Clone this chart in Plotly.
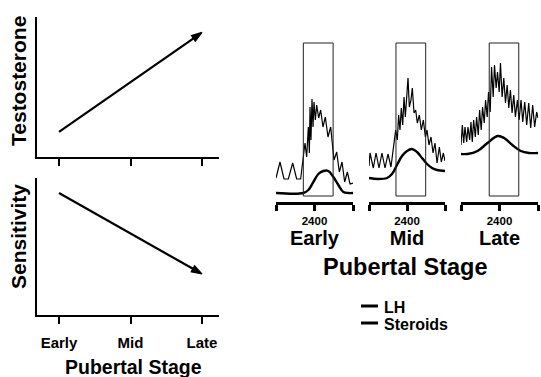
import plotly.graph_objects as go

W, H = 541, 377
FONT = "Liberation Sans, Arial, sans-serif"

# ---------------- data ----------------
stages = ["Early", "Mid", "Late"]
stage_pos = [0, 1, 2]
testosterone = [0.18, 0.89]      # Early -> Late
sensitivity = [0.89, 0.30]       # Early -> Late

# Early panel
early_lh_t = [1800, 1862, 1925, 1992, 2060, 2122, 2184, 2252, 2278, 2304, 2320, 2330, 2345, 2361,
              2377, 2392, 2413, 2434, 2465, 2496, 2532, 2569, 2610, 2652, 2704, 2746, 2787, 2829,
              2870, 2912, 2954, 3000]
early_lh_v = [0.24, 0.40, 0.23, 0.23, 0.39, 0.23, 0.23, 0.59, 0.45, 0.75, 0.49, 0.95, 0.62, 1.03,
              0.75, 1.00, 0.82, 0.97, 0.84, 0.92, 0.75, 0.85, 0.65, 0.75, 0.42, 0.50, 0.30, 0.40,
              0.20, 0.30, 0.18, 0.19]
early_st_t = [1800, 2226, 2304, 2382, 2460, 2538, 2616, 2694, 2772, 2850, 2928, 3000]
early_st_v = [0.09, 0.09, 0.12, 0.20, 0.28, 0.31, 0.31, 0.25, 0.17, 0.10, 0.09, 0.09]

# Mid panel
mid_lh_t = [1800, 1816, 1868, 1911, 1958, 2005, 2053, 2100, 2147, 2221, 2247, 2268, 2289, 2310,
            2332, 2353, 2374, 2400, 2416, 2437, 2463, 2484, 2511, 2537, 2563, 2595, 2626, 2658,
            2690, 2716, 2747, 2779, 2811, 2842, 2874, 2911, 2942, 2974, 3000]
mid_lh_v = [0.36, 0.49, 0.34, 0.49, 0.34, 0.49, 0.34, 0.48, 0.35, 0.72, 0.62, 0.87, 0.72, 0.94,
            0.77, 1.05, 0.85, 1.14, 1.24, 0.95, 1.02, 1.14, 0.89, 0.92, 0.79, 0.87, 0.72, 0.82,
            0.65, 0.72, 0.57, 0.65, 0.49, 0.59, 0.39, 0.55, 0.40, 0.49, 0.41]
mid_st_t = [1800, 1942, 2084, 2163, 2242, 2321, 2400, 2479, 2558, 2637, 2716, 2795, 2874, 3000]
mid_st_v = [0.24, 0.23, 0.24, 0.28, 0.37, 0.46, 0.51, 0.53, 0.50, 0.44, 0.38, 0.34, 0.32, 0.31]

# Late panel
late_lh_t = [1800, 1821, 1842, 1862, 1888, 1909, 1935, 1955, 1976, 1997, 2023, 2043, 2069, 2090,
             2115, 2136, 2162, 2183, 2208, 2229, 2255, 2276, 2302, 2322, 2348, 2369, 2395, 2415,
             2441, 2467, 2493, 2519, 2545, 2570, 2596, 2622, 2648, 2679, 2705, 2736, 2762, 2793,
             2824, 2855, 2886, 2917, 2948, 2979, 3000]
late_lh_v = [0.57, 0.77, 0.59, 0.75, 0.60, 0.75, 0.62, 0.80, 0.60, 0.82, 0.65, 0.85, 0.67, 0.92,
             0.72, 0.95, 0.79, 1.02, 0.85, 1.10, 0.90, 1.35, 1.05, 1.37, 1.14, 1.30, 1.10, 1.39,
             1.05, 1.24, 0.99, 1.17, 0.94, 1.12, 0.89, 1.07, 0.85, 1.02, 0.82, 1.02, 0.80, 1.00,
             0.77, 0.99, 0.74, 0.97, 0.75, 0.90, 0.84]
late_st_t = [1800, 1903, 2058, 2213, 2369, 2472, 2601, 2731, 2860, 3000]
late_st_v = [0.48, 0.48, 0.51, 0.59, 0.66, 0.64, 0.57, 0.51, 0.49, 0.49]

# sampling window (box) per panel
windows = [[2226, 2690], [2226, 2695], [2240, 2700]]
window_v = [0.06, 1.59]

time_ticks = [1800, 2400, 3000]
time_ticktext = ["", "2400", ""]

# ---------------- helpers ----------------
def px(x):
    return x / W


def py(y):
    return 1 - y / H


fig = go.Figure()

# ---------------- left panels ----------------
arrow_marker = dict(symbol=["circle", "arrow"], size=[0, 11], angleref="previous",
                    color="black", opacity=1, line=dict(width=1.2, color="black"))
fig.add_trace(go.Scatter(x=[stage_pos[0], stage_pos[2]], y=testosterone, mode="lines+markers",
                         line=dict(color="black", width=2.2), marker=arrow_marker,
                         xaxis="x", yaxis="y", showlegend=False, hoverinfo="skip"))
fig.add_trace(go.Scatter(x=[stage_pos[0], stage_pos[2]], y=sensitivity, mode="lines+markers",
                         line=dict(color="black", width=2.2), marker=arrow_marker,
                         xaxis="x2", yaxis="y2", showlegend=False, hoverinfo="skip"))

left_x_dom = [px(37), px(219)]
xr = [-(59 - 37) / 71.5, 2 + (219 - 202) / 71.5]
common_left_x = dict(domain=left_x_dom, range=xr, showline=True, linecolor="black", linewidth=2,
                     ticks="outside", ticklen=7, tickwidth=2, tickcolor="black",
                     tickvals=stage_pos, showgrid=False, zeroline=False, fixedrange=True)
common_left_y = dict(range=[0, 1], showline=True, linecolor="black", linewidth=2,
                     showticklabels=False, ticks="", showgrid=False, zeroline=False)

fig.update_layout(
    xaxis=dict(common_left_x, anchor="y", ticktext=["", "", ""]),
    yaxis=dict(common_left_y, domain=[py(157), py(17)], anchor="x"),
    xaxis2=dict(common_left_x, anchor="y2", ticktext=stages,
                tickfont=dict(family=FONT, size=15, color="black"), ticklabelstandoff=6),
    yaxis2=dict(common_left_y, domain=[py(315), py(178)], anchor="x2"),
)

# ---------------- right panels ----------------
panels = [
    (early_lh_t, early_lh_v, early_st_t, early_st_v, 276, 353),
    (mid_lh_t, mid_lh_v, mid_st_t, mid_st_v, 369, 445),
    (late_lh_t, late_lh_v, late_st_t, late_st_v, 461, 538),
]
for i, (lt, lv, stt, stv, x0, x1) in enumerate(panels):
    n = i + 3
    xa, ya = f"x{n}", f"y{n}"
    fig.add_trace(go.Scatter(x=lt, y=lv, mode="lines", line=dict(color="black", width=1.2),
                             xaxis=xa, yaxis=ya, showlegend=False, hoverinfo="skip"))
    fig.add_trace(go.Scatter(x=stt, y=stv, mode="lines", line=dict(color="black", width=2.4,
                             shape="spline", smoothing=1.0),
                             xaxis=xa, yaxis=ya, showlegend=False, hoverinfo="skip"))
    fig.add_shape(type="rect", xref=xa, yref=ya, x0=windows[i][0], x1=windows[i][1],
                  y0=window_v[0], y1=window_v[1], line=dict(color="#222", width=1))
    fig.layout[f"xaxis{n}"] = dict(
        domain=[px(x0), px(x1)], range=[1800, 3000], anchor=ya, showline=True,
        linecolor="black", linewidth=2.5, ticks="outside", ticklen=6, tickwidth=2.5,
        tickcolor="black", tickvals=time_ticks, ticktext=time_ticktext,
        tickfont=dict(family=FONT, size=11.5, color="black"), showgrid=False, zeroline=False,
        title=dict(text=stages[i], font=dict(family=FONT, size=20, color="black"), standoff=2))
    fig.layout[f"yaxis{n}"] = dict(domain=[py(202), py(40)], range=[0, 1.62], anchor=xa,
                                   visible=False)

# ---------------- text annotations ----------------
ann_font = lambda s: dict(family=FONT, size=s, color="black")
center = dict(xref="paper", yref="paper", xanchor="center", yanchor="middle", showarrow=False)
fig.add_annotation(text="<b>Testosterone</b>", x=px(18), y=py(81), textangle=-90,
                   font=ann_font(21), **center)
fig.add_annotation(text="<b>Sensitivity</b>", x=px(18), y=py(237), textangle=-90,
                   font=ann_font(21), **center)
fig.add_annotation(text="<b>Pubertal Stage</b>", x=px(133), y=py(367), font=ann_font(19.5),
                   **center)
fig.add_annotation(text="<b>Pubertal Stage</b>", x=px(405), y=py(267), font=ann_font(23.5),
                   **center)

# legend
legend_items = ["LH", "Steroids"]
legend_y = [306, 323]
for name, ly in zip(legend_items, legend_y):
    fig.add_shape(type="line", xref="paper", yref="paper", x0=px(361), x1=px(378),
                  y0=py(ly), y1=py(ly), line=dict(color="black", width=3))
    fig.add_annotation(text=f"<b>{name}</b>", x=px(382), y=py(ly + 1), xref="paper",
                       yref="paper", xanchor="left", yanchor="middle", showarrow=False,
                       font=ann_font(16))

fig.update_layout(
    width=W, height=H, margin=dict(l=0, r=0, t=0, b=0),
    paper_bgcolor="white", plot_bgcolor="white",
    font=dict(family=FONT, color="black"),
)
# bold tick labels / titles
for ax in ["xaxis2", "xaxis3", "xaxis4", "xaxis5"]:
    a = fig.layout[ax]
    if a.ticktext:
        a.ticktext = [f"<b>{t}</b>" if t else "" for t in a.ticktext]
    if a.title and a.title.text:
        a.title.text = f"<b>{a.title.text}</b>"

fig.write_html("out.html")
